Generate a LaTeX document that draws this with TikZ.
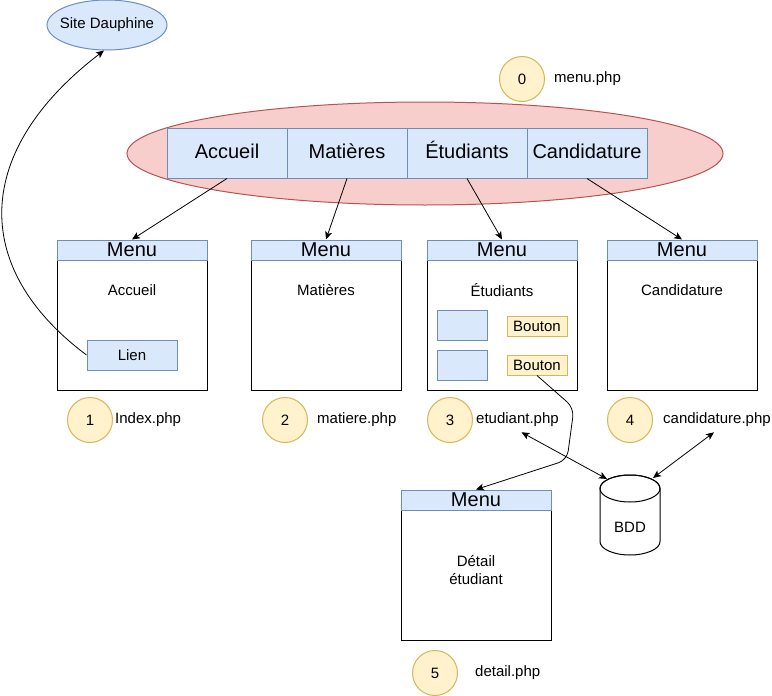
\documentclass[tikz,border=0pt]{standalone}
\usepackage{fontspec}
\setmainfont{Liberation Sans}
\usetikzlibrary{shapes.geometric,arrows.meta,calc}
\definecolor{blueF}{HTML}{DAE8FC}
\definecolor{blueD}{HTML}{6C8EBF}
\definecolor{redF}{HTML}{F8CECC}
\definecolor{redD}{HTML}{B85450}
\definecolor{yelF}{HTML}{FFF2CC}
\definecolor{yelD}{HTML}{D6B656}
\tikzset{
  sm/.style={font=\fontsize{15}{18}\selectfont},
  bg/.style={font=\fontsize{20}{22}\selectfont},
  bluebox/.style={draw=blueD, fill=blueF, line width=1pt, rectangle, inner sep=0pt},
  yelbox/.style={draw=yelD, fill=yelF, line width=1pt, rectangle, inner sep=0pt},
  tab/.style={bluebox, bg, minimum width=120pt, minimum height=50pt, text height=14.5pt, text depth=4pt},
  page/.style={draw=black, line width=1pt, rectangle, minimum width=150pt, minimum height=150pt, inner sep=0pt},
  header/.style={bluebox, bg, minimum width=150pt, minimum height=20pt},
  numc/.style={circle, draw=yelD, fill=yelF, line width=1pt, minimum size=45pt, inner sep=0pt, sm},
  lbl/.style={sm, anchor=west, inner sep=0pt, text height=11pt, text depth=3.2pt},
  arr/.style={-{Stealth[length=8pt,width=7pt,inset=2pt]}, line width=0.8pt},
  darr/.style={{Stealth[length=8pt,width=7pt,inset=2pt]}-{Stealth[length=8pt,width=7pt,inset=2pt]}, line width=0.8pt},
}
\begin{document}
\begin{tikzpicture}[x=1pt,y=-1pt]
\useasboundingbox (0,0) rectangle (772,696);
% red ellipse
\node (menuell) [ellipse, draw=redD, fill=redF, line width=1pt, minimum width=596pt, minimum height=103pt, inner sep=0pt] at (425,153.5) {};
% site dauphine
\node (site) [ellipse, draw=blueD, fill=blueF, line width=1pt, minimum width=120pt, minimum height=50pt, inner sep=0pt] at (107,25) {};
\node (sitet) [sm] at (site.center) {Site Dauphine};
% tabs
\node (tab1) [tab] at (227,153) {Accueil};
\node (tab2) [tab] at (347,153) {Matières};
\node (tab3) [tab] at (467,153) {Étudiants};
\node (tab4) [tab] at (587,153) {Candidature};
% pages
\node (pg1) [page] at (132,315) {};
\node (pg2) [page] at (326,315) {};
\node (pg3) [page] at (502,315) {};
\node (pg4) [page] at (682,315) {};
\node (pg5) [page] at (476,565) {};
\node (hd1) [header] at (132,250) {Menu};
\node (hd2) [header] at (326,250) {Menu};
\node (hd3) [header] at (502,250) {Menu};
\node (hd4) [header] at (682,250) {Menu};
\node (hd5) [header] at (476,500) {Menu};
\node (t1) [sm] at (132,290) {Accueil};
\node (t2) [sm] at (326,290) {Matières};
\node (t3) [sm] at (502,290) {Étudiants};
\node (t4) [sm] at (682,290) {Candidature};
\node (t5) [sm, align=center] at (476,570) {Détail\\étudiant};
% inner elements
\node (lien) [bluebox, sm, minimum width=90pt, minimum height=30pt] at (132,355) {Lien};
\node (bx1) [bluebox, minimum width=50pt, minimum height=30pt] at (462,325) {};
\node (bx2) [bluebox, minimum width=50pt, minimum height=30pt] at (462,365) {};
\node (bt1) [yelbox, sm, minimum width=60pt, minimum height=20pt] at (537,326) {Bouton};
\node (bt2) [yelbox, sm, minimum width=60pt, minimum height=20pt] at (537,365) {Bouton};
% numbered circles and labels
\node (c0) [numc] at (522,79) {0};
\node (c1) [numc] at (90,420) {1};
\node (c2) [numc] at (285,420) {2};
\node (c3) [numc] at (450,420) {3};
\node (c4) [numc] at (630,420) {4};
\node (c5) [numc] at (435,673) {5};
\node (l0) [lbl] at (554,79) {menu.php};
\node (l1) [lbl] at (115,420) {Index.php};
\node (l2) [lbl] at (317,420) {matiere.php};
\node (l3) [lbl] at (476,420) {etudiant.php};
\node (l4) [lbl] at (663,420) {candidature.php};
\node (l5) [lbl] at (475,673) {detail.php};
% BDD cylinder
\node (bdd) [minimum width=60pt, minimum height=80pt, inner sep=0pt] at (630,515) {};
\draw[line width=1pt, fill=white] (600,488.5) -- (600,541.5)
  arc[start angle=180, end angle=360, x radius=30pt, y radius=13.5pt]
  -- (660,488.5)
  arc[start angle=0, end angle=180, x radius=30pt, y radius=13.5pt] -- cycle;
\draw[line width=1pt] (630,488.5) ellipse [x radius=30pt, y radius=13.5pt];
\node (bddt) [sm] at (630,527) {BDD};
\coordinate (bddL) at (607,479);
\coordinate (bddR) at (653,478);
% connectors
\draw[arr] (tab1.south) -- (hd1.north);
\draw[arr] (tab2.south) -- (hd2.north);
\draw[arr] (tab3.south) -- (hd3.north);
\draw[arr] (tab4.south) -- (hd4.north);
\draw[arr] (lien.west) .. controls (-31,267) and (-26,150) .. ([xshift=-3pt]site.south);
\coordinate (w1) at (574,408);
\coordinate (w2) at (567,460);
\draw[arr, rounded corners=9pt] (bt2.south) -- (w1) -- (w2) -- (hd5.north);
\draw[darr] ([xshift=4pt,yshift=-5pt]l3.south) -- (bddL);
\draw[darr] ([xshift=-3pt,yshift=-5pt]l4.south) -- (bddR);
\end{tikzpicture}
\end{document}
